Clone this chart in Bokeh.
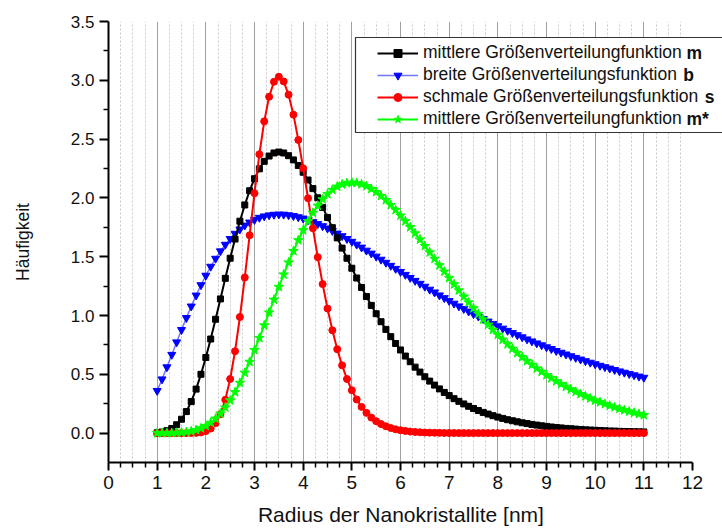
from bokeh.plotting import figure
from bokeh.models import (FixedTicker, PrintfTickFormatter, Legend, LegendItem,
                          Label, BoxAnnotation, Range1d)
from bokeh.embed import file_html
from bokeh.resources import INLINE

# ---- data -------------------------------------------------------------
radius_nm = [
    1.0, 1.1, 1.2, 1.3, 1.4, 1.5, 1.6, 1.7, 1.8, 1.9,
    2.0, 2.1, 2.2, 2.3, 2.4, 2.5, 2.6, 2.7, 2.8, 2.9,
    3.0, 3.1, 3.2, 3.3, 3.4, 3.5, 3.6, 3.7, 3.8, 3.9,
    4.0, 4.1, 4.2, 4.3, 4.4, 4.5, 4.6, 4.7, 4.8, 4.9,
    5.0, 5.1, 5.2, 5.3, 5.4, 5.5, 5.6, 5.7, 5.8, 5.9,
    6.0, 6.1, 6.2, 6.3, 6.4, 6.5, 6.6, 6.7, 6.8, 6.9,
    7.0, 7.1, 7.2, 7.3, 7.4, 7.5, 7.6, 7.7, 7.8, 7.9,
    8.0, 8.1, 8.2, 8.3, 8.4, 8.5, 8.6, 8.7, 8.8, 8.9,
    9.0, 9.1, 9.2, 9.3, 9.4, 9.5, 9.6, 9.7, 9.8, 9.9,
    10.0, 10.1, 10.2, 10.3, 10.4, 10.5, 10.6, 10.7, 10.8, 10.9,
    11.0,
]

m_mittlere = [
    0.003, 0.009, 0.020, 0.039, 0.071, 0.118, 0.183, 0.268, 0.374, 0.500,
    0.643, 0.800, 0.968, 1.141, 1.316, 1.487, 1.650, 1.802, 1.940, 2.061,
    2.163, 2.247, 2.311, 2.356, 2.382, 2.390, 2.382, 2.359, 2.323, 2.276,
    2.218, 2.152, 2.079, 2.001, 1.919, 1.834, 1.747, 1.660, 1.573, 1.487,
    1.402, 1.319, 1.239, 1.161, 1.086, 1.015, 0.947, 0.882, 0.820, 0.762,
    0.707, 0.655, 0.607, 0.561, 0.519, 0.479, 0.442, 0.408, 0.376, 0.346,
    0.319, 0.293, 0.270, 0.248, 0.228, 0.209, 0.192, 0.176, 0.162, 0.148,
    0.136, 0.125, 0.114, 0.105, 0.096, 0.088, 0.081, 0.074, 0.068, 0.062,
    0.057, 0.052, 0.048, 0.044, 0.040, 0.037, 0.034, 0.031, 0.028, 0.026,
    0.024, 0.022, 0.020, 0.018, 0.017, 0.015, 0.014, 0.013, 0.012, 0.011,
    0.010,
]

b_breite = [
    0.360, 0.458, 0.561, 0.667, 0.773, 0.878, 0.980, 1.078, 1.171, 1.259,
    1.340, 1.416, 1.484, 1.547, 1.603, 1.652, 1.696, 1.733, 1.766, 1.792,
    1.814, 1.832, 1.844, 1.853, 1.858, 1.860, 1.859, 1.854, 1.847, 1.837,
    1.826, 1.812, 1.796, 1.779, 1.761, 1.741, 1.720, 1.698, 1.676, 1.652,
    1.628, 1.604, 1.579, 1.553, 1.528, 1.502, 1.476, 1.450, 1.424, 1.398,
    1.372, 1.347, 1.321, 1.296, 1.271, 1.246, 1.221, 1.197, 1.172, 1.149,
    1.125, 1.102, 1.079, 1.057, 1.035, 1.013, 0.992, 0.971, 0.950, 0.930,
    0.910, 0.890, 0.871, 0.852, 0.834, 0.816, 0.798, 0.781, 0.764, 0.748,
    0.731, 0.716, 0.700, 0.685, 0.670, 0.655, 0.641, 0.627, 0.613, 0.600,
    0.587, 0.574, 0.562, 0.550, 0.538, 0.526, 0.515, 0.504, 0.493, 0.482,
    0.472,
]

s_schmale = [
    0.000, 0.000, 0.000, 0.000, 0.000, 0.000, 0.000, 0.001, 0.002, 0.006,
    0.017, 0.039, 0.084, 0.161, 0.283, 0.460, 0.696, 0.987, 1.323, 1.682,
    2.040, 2.371, 2.651, 2.860, 2.988, 3.030, 2.990, 2.878, 2.708, 2.493,
    2.252, 1.997, 1.742, 1.496, 1.267, 1.059, 0.874, 0.713, 0.576, 0.460,
    0.364, 0.286, 0.223, 0.172, 0.132, 0.101, 0.077, 0.058, 0.043, 0.032,
    0.024, 0.018, 0.013, 0.010, 0.007, 0.005, 0.004, 0.003, 0.002, 0.001,
    0.001, 0.001, 0.000, 0.000, 0.000, 0.000, 0.000, 0.000, 0.000, 0.000,
    0.000, 0.000, 0.000, 0.000, 0.000, 0.000, 0.000, 0.000, 0.000, 0.000,
    0.000, 0.000, 0.000, 0.000, 0.000, 0.000, 0.000, 0.000, 0.000, 0.000,
    0.000, 0.000, 0.000, 0.000, 0.000, 0.000, 0.000, 0.000, 0.000, 0.000,
    0.000,
]

m_stern = [
    0.000, 0.000, 0.000, 0.001, 0.002, 0.005, 0.009, 0.015, 0.026, 0.040,
    0.061, 0.088, 0.123, 0.166, 0.218, 0.278, 0.348, 0.427, 0.513, 0.606,
    0.706, 0.809, 0.916, 1.025, 1.135, 1.243, 1.349, 1.451, 1.548, 1.640,
    1.725, 1.803, 1.873, 1.934, 1.988, 2.032, 2.068, 2.096, 2.115, 2.126,
    2.130, 2.127, 2.116, 2.100, 2.077, 2.050, 2.017, 1.981, 1.940, 1.897,
    1.850, 1.802, 1.751, 1.699, 1.646, 1.591, 1.537, 1.482, 1.427, 1.373,
    1.319, 1.265, 1.213, 1.161, 1.111, 1.062, 1.014, 0.967, 0.922, 0.878,
    0.836, 0.795, 0.756, 0.718, 0.681, 0.646, 0.613, 0.581, 0.550, 0.521,
    0.493, 0.467, 0.441, 0.417, 0.394, 0.372, 0.351, 0.332, 0.313, 0.295,
    0.278, 0.263, 0.247, 0.233, 0.220, 0.207, 0.195, 0.184, 0.173, 0.163,
    0.153,
]

x_ticks = [0, 1, 2, 3, 4, 5, 6, 7, 8, 9, 10, 11, 12]
y_ticks = [0.0, 0.5, 1.0, 1.5, 2.0, 2.5, 3.0, 3.5]
x_title = "Radius der Nanokristallite [nm]"
y_title = "Häufigkeit"
legend_texts = [
    "mittlere Größenverteilungfunktion",
    "breite Größenverteilungsfunktion",
    "schmale Größenverteilungsfunktion",
    "mittlere Größenverteilungfunktion",
]
legend_bold = ["m", "b", "s", "m*"]

FONT = "Liberation Sans"

# ---- figure -----------------------------------------------------------
# the frame runs to the right window edge so the legend box is not clipped;
# the x axis itself is bounded to 0..12
p = figure(width=722, height=529, output_backend="svg", toolbar_location=None,
           x_range=Range1d(0, 12 * 614 / 584), y_range=Range1d(-0.25, 3.5),
           min_border_left=108, min_border_right=0,
           min_border_top=21, min_border_bottom=67)
p.outline_line_color = None
p.background_fill_color = "white"
p.border_fill_color = "white"

x_minor = [i * 0.25 for i in range(1, 48) if i % 4 != 0]
y_minor = [i * 0.25 for i in range(0, 14) if i % 2 == 1]

p.xaxis.ticker = FixedTicker(ticks=x_ticks, minor_ticks=x_minor)
p.xaxis.bounds = (0, 12)
p.yaxis.ticker = FixedTicker(ticks=y_ticks, minor_ticks=y_minor)
p.yaxis.formatter = PrintfTickFormatter(format="%.1f")

for ax in (p.xaxis[0], p.yaxis[0]):
    ax.axis_line_width = 2
    ax.axis_line_color = "black"
    ax.major_tick_line_width = 2
    ax.minor_tick_line_width = 1.5
    ax.major_tick_line_color = "black"
    ax.minor_tick_line_color = "black"
    ax.major_tick_in = 0
    ax.minor_tick_in = 0
    ax.minor_tick_out = 5
    ax.major_label_text_font = FONT
    ax.major_label_text_color = "#111111"
    ax.axis_label_text_font = FONT
    ax.axis_label_text_font_style = "normal"
    ax.axis_label_text_color = "#111111"

p.xaxis.major_tick_out = 8
p.yaxis.major_tick_out = 9
p.xaxis.major_label_text_font_size = "19px"
p.yaxis.major_label_text_font_size = "17px"
p.xaxis.major_label_standoff = 5
p.yaxis.major_label_standoff = 5
# trailing no-break spaces shift the centred title onto the 0..12 axis span
p.xaxis.axis_label = x_title + "\u00a0" * 5
p.yaxis.axis_label = y_title
p.xaxis.axis_label_text_font_size = "21px"
p.yaxis.axis_label_text_font_size = "17.5px"
p.xaxis.axis_label_standoff = 11
p.yaxis.axis_label_standoff = 35

p.xgrid.ticker = FixedTicker(ticks=list(range(1, 12)), minor_ticks=x_minor)
p.xgrid.grid_line_color = "#a0a0a0"
p.xgrid.grid_line_width = 1
p.xgrid.minor_grid_line_color = "#c8c8c8"
p.xgrid.minor_grid_line_dash = "2 2"
p.xgrid.minor_grid_line_width = 1
p.ygrid.grid_line_color = None

# ---- series -----------------------------------------------------------
b_line = p.line(radius_nm, b_breite, line_color="#0000ff", line_alpha=0.55, line_width=1.5)
b_pts = p.scatter(radius_nm, b_breite, marker="inverted_triangle", size=8,
                  fill_color="#0000ff", line_color="#0000ff")
m_line = p.line(radius_nm, m_mittlere, line_color="black", line_width=2)
m_pts = p.scatter(radius_nm, m_mittlere, marker="square", size=6,
                  fill_color="black", line_color="black")
s_line = p.line(radius_nm, s_schmale, line_color="#ff0000", line_width=2)
s_pts = p.scatter(radius_nm, s_schmale, marker="circle", size=7,
                  fill_color="#ff0000", line_color="#ff0000")
ms_line = p.line(radius_nm, m_stern, line_color="#00ff00", line_width=2)
ms_pts = p.scatter(radius_nm, m_stern, marker="star", size=10,
                   fill_color="#00ff00", line_color="#00ff00")

# ---- legend -----------------------------------------------------------
box = BoxAnnotation(left=247, right=640, top=425, bottom=330,
                    left_units="screen", right_units="screen",
                    top_units="screen", bottom_units="screen",
                    fill_color="white", fill_alpha=1.0,
                    line_color="#333333", line_width=1.2, line_alpha=1.0)
p.add_layout(box)

items = [
    LegendItem(label=legend_texts[0], renderers=[m_line, m_pts]),
    LegendItem(label=legend_texts[1], renderers=[b_line, b_pts]),
    LegendItem(label=legend_texts[2], renderers=[s_line, s_pts]),
    LegendItem(label=legend_texts[3], renderers=[ms_line, ms_pts]),
]
legend = Legend(items=items, location=(269, 333), glyph_width=41, glyph_height=20,
                label_height=20, label_standoff=5, padding=0, spacing=1, margin=0,
                border_line_alpha=0, background_fill_alpha=0,
                label_text_font=FONT, label_text_font_size="17.5px",
                label_text_color="#111111")
p.add_layout(legend)

bold_x = [578, 574.7, 596.3, 578]
bold_y = [409.5, 387.5, 365.5, 343.5]
for txt, bx, by in zip(legend_bold, bold_x, bold_y):
    p.add_layout(Label(x=bx, y=by, x_units="screen", y_units="screen", text=txt,
                       text_font=FONT, text_font_style="bold", text_font_size="17.5px",
                       text_baseline="middle", text_align="left", text_color="#111111"))

open("out.html", "w").write(file_html(p, INLINE))
